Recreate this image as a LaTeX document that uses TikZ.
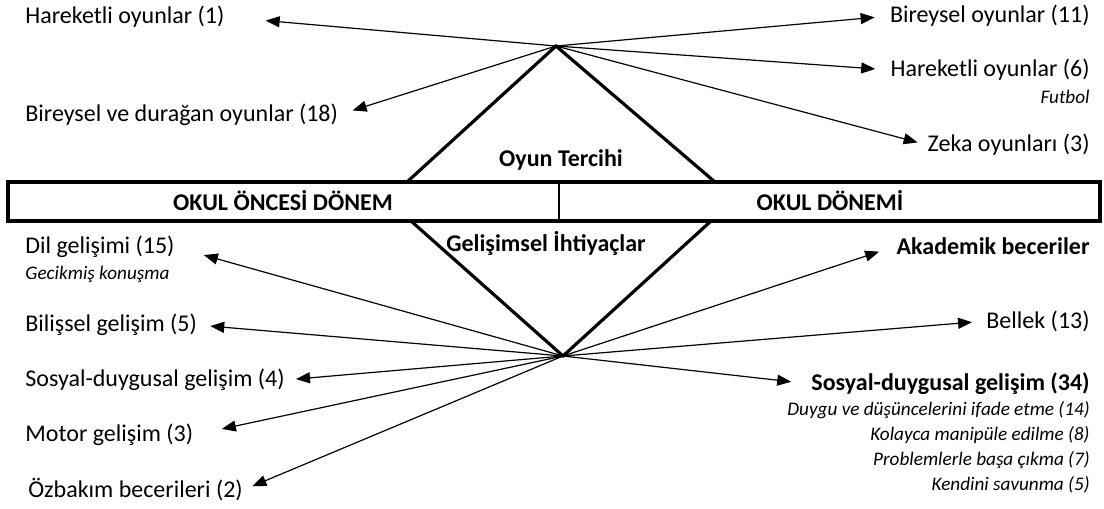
\documentclass[tikz,border=0pt]{standalone}
\usepackage{fontspec}
\setmainfont{Carlito}
\usepackage{tikz}
\usetikzlibrary{arrows.meta}

\begin{document}
\begin{tikzpicture}[x=0.5pt,y=-0.5pt,
    lbl/.style={inner sep=0pt,font=\fontsize{12}{14}\selectfont},
    bold/.style={lbl,font=\fontsize{12}{14}\selectfont\bfseries},
    note/.style={inner sep=0pt,font=\fontsize{9.6}{12}\selectfont\itshape},
    arr/.style={line width=0.6pt,-{Triangle[length=7pt,width=5.5pt]}},
    frame/.style={line width=1.6pt}]
   \useasboundingbox (0,0) rectangle (1104,509);

   % the two periods
   \draw[frame] (8,182) rectangle (1100,221);
   \draw[line width=1pt] (559,182) -- (559,221);
   \node[bold] (pre) at (283,201) {OKUL ÖNCESİ DÖNEM};
   \node[bold] (sch) at (830,201) {OKUL DÖNEMİ};

   % upper triangle
   \coordinate (top) at (556,46);
   \draw[frame] (407,182) -- (top) -- (715,182);
   \node[bold] (play) at (561,160) {Oyun Tercihi};

   \node[lbl,anchor=west] (h1) at (25,17) {Hareketli oyunlar (1)};
   \node[lbl,anchor=west] (h2) at (25,115) {Bireysel ve durağan oyunlar (18)};
   \node[lbl,anchor=east] (r1) at (1090,16) {Bireysel oyunlar (11)};
   \node[lbl,anchor=east] (r2) at (1090,70) {Hareketli oyunlar (6)};
   \node[note,anchor=east] (fut) at (1090,97) {Futbol};
   \node[lbl,anchor=east] (r3) at (1090,145) {Zeka oyunları (3)};

   \draw[arr,shorten >=20.5pt] (top) -- (h1.east);
   \draw[arr,shorten >=7.5pt] (top) -- (h2.east);
   \draw[arr,shorten >=7.5pt] (top) -- (r1.west);
   \draw[arr,shorten >=7.5pt] (top) -- (r2.west);
   \draw[arr,shorten >=5pt] (top) -- (r3.west);

   % lower triangle
   \coordinate (bot) at (563,356);
   \draw[frame] (411,221) -- (bot) -- (711,221);
   \node[bold] (need) at (546,243) {Gelişimsel İhtiyaçlar};

   \node[lbl,anchor=west] (d1) at (25,247) {Dil gelişimi (15)};
   \node[note,anchor=west] (gec) at (25,274) {Gecikmiş konuşma};
   \node[lbl,anchor=west] (d2) at (25,325) {Bilişsel gelişim (5)};
   \node[lbl,anchor=west] (d3) at (25,380) {Sosyal-duygusal gelişim (4)};
   \node[lbl,anchor=west] (d4) at (25,435) {Motor gelişim (3)};
   \node[lbl,anchor=west] (d5) at (28,490) {Özbakım becerileri (2)};

   \node[bold,anchor=east] (a1) at (1090,246) {Akademik beceriler};
   \node[lbl,anchor=east] (a2) at (1090,321) {Bellek (13)};
   \node[bold,anchor=east] (a3) at (1090,384) {Sosyal-duygusal gelişim (34)};
   \node[note,anchor=east] (s1) at (1090,410) {Duygu ve düşüncelerini ifade etme (14)};
   \node[note,anchor=east] (s2) at (1090,435) {Kolayca manipüle edilme (8)};
   \node[note,anchor=east] (s3) at (1090,460) {Problemlerle başa çıkma (7)};
   \node[note,anchor=east] (s4) at (1090,485) {Kendini savunma (5)};

   \draw[arr,shorten >=15pt] (bot) -- (d1.east);
   \draw[arr,shorten >=6.5pt] (bot) -- (d2.east);
   \draw[arr,shorten >=5.5pt] (bot) -- (d3.east);
   \draw[arr,shorten >=14.5pt] (bot) -- (d4.east);
   \draw[arr,shorten >=5pt] (bot) -- (d5.east);
   \draw[arr,shorten >=9pt] (bot) -- (a1.west);
   \draw[arr,shorten >=7pt] (bot) -- (a2.west);
   \draw[arr,shorten >=10pt] (bot) -- (a3.west);
\end{tikzpicture}
\end{document}
